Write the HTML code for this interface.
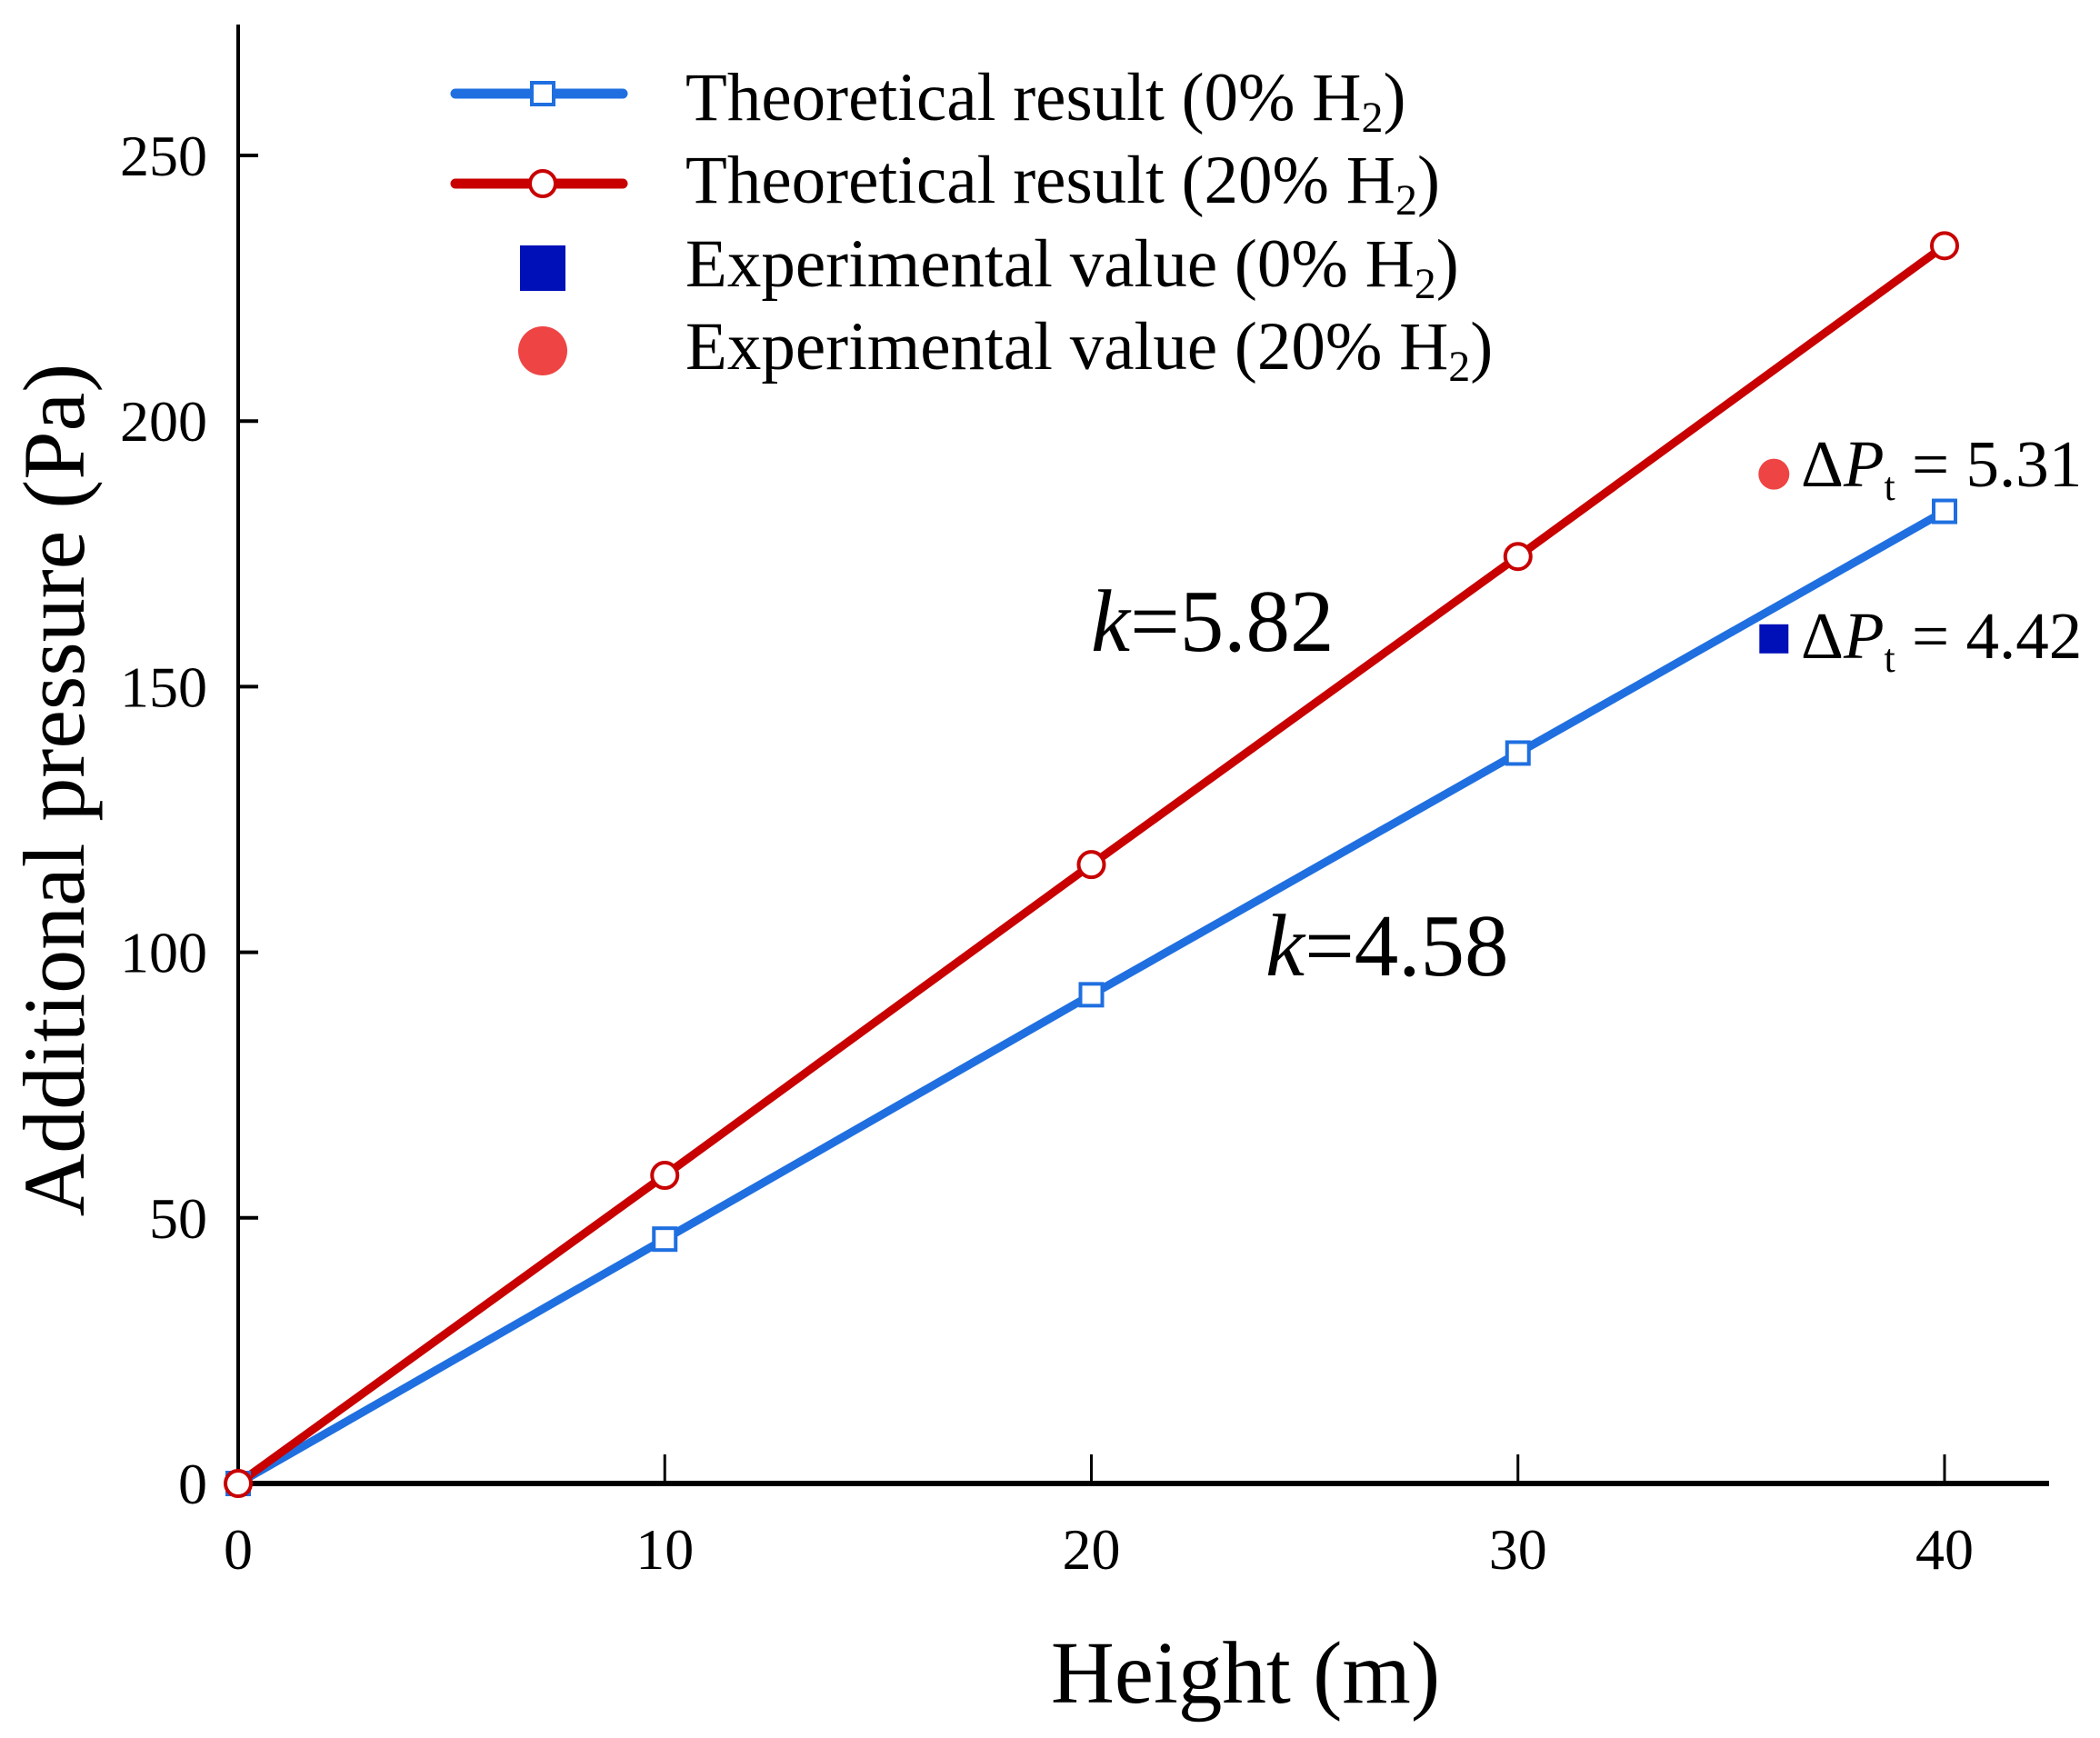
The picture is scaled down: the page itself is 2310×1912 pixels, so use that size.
<!DOCTYPE html>
<html><head><meta charset="utf-8"><style>
html,body{margin:0;padding:0;background:#fff}
svg{display:block;font-family:"Liberation Serif",serif}
</style></head><body>
<svg id="chart" width="2310" height="1912" viewBox="0 0 2310 1912" xmlns="http://www.w3.org/2000/svg">
<g id="axes"></g>
<g id="series"></g>
<g id="legend">
  <line x1="501" y1="103" x2="685" y2="103" stroke="#1f6fe0" stroke-width="11" stroke-linecap="round"/>
  <rect x="585" y="91" width="24" height="24" fill="#fff" stroke="#1f6fe0" stroke-width="4"/>
  <text x="754" y="132" font-size="75">Theoretical result (0% H<tspan font-size="48" dy="13">2</tspan><tspan dy="-13">)</tspan></text>
  <line x1="501" y1="202" x2="685" y2="202" stroke="#c80000" stroke-width="11" stroke-linecap="round"/>
  <circle cx="597" cy="202" r="14" fill="#fff" stroke="#c80000" stroke-width="4"/>
  <text x="754" y="223" font-size="75">Theoretical result (20% H<tspan font-size="48" dy="13">2</tspan><tspan dy="-13">)</tspan></text>
  <rect x="572" y="270" width="50" height="50" fill="#0010b8"/>
  <text x="754" y="315" font-size="75">Experimental value (0% H<tspan font-size="48" dy="13">2</tspan><tspan dy="-13">)</tspan></text>
  <ellipse cx="597" cy="386" rx="27" ry="27" fill="#ef4444"/>
  <text x="754" y="406" font-size="75">Experimental value (20% H<tspan font-size="48" dy="13">2</tspan><tspan dy="-13">)</tspan></text>
</g>
<g id="annot">
  <text x="1200" y="716" font-size="97"><tspan font-style="italic">k</tspan>=5.82</text>
  <text x="1392" y="1073" font-size="97"><tspan font-style="italic">k</tspan>=4.58</text>
  <text x="1981" y="535" font-size="73">Δ<tspan font-style="italic">P</tspan><tspan font-size="44" dy="15">t</tspan><tspan dy="-15"> = 5.31</tspan></text>
  <text x="1981" y="724" font-size="73">Δ<tspan font-style="italic">P</tspan><tspan font-size="44" dy="15">t</tspan><tspan dy="-15"> = 4.42</tspan></text>
  <text x="1370" y="1873" font-size="97" text-anchor="middle">Height (m)</text>
  <text transform="translate(92,869) rotate(-90)" font-size="96" text-anchor="middle">Additional pressure (Pa)</text>
</g>
</svg>
<script>
const xVals = [0, 10, 20, 30, 40];
const blueTheory = [0, 46, 92, 137.5, 183];
const redTheory = [0, 58, 116.5, 174.5, 233];
const expX = [36, 36];
const expBlue = [159];
const expRed = [190];
const xTicks = [0, 10, 20, 30, 40];
const yTicks = [0, 50, 100, 150, 200, 250];

const NS = 'http://www.w3.org/2000/svg';
const X0 = 262, X1 = 2139, Y0 = 1632, Y1 = 171;
function sx(v){ return X0 + (v - 0) / 40 * (X1 - X0); }
function sy(v){ return Y0 - v / 250 * (Y0 - Y1); }
function mk(tag, attrs, parent){ const e = document.createElementNS(NS, tag); for (const k in attrs) e.setAttribute(k, attrs[k]); parent.appendChild(e); return e; }

const axes = document.getElementById('axes');
let e = mk('line', {x1: X0, y1: 27, x2: X0, y2: Y0 + 3, stroke: '#000', 'stroke-width': 4}, axes);


e = mk('line', {x1: X0 - 2, y1: Y0, x2: 2254, y2: Y0, stroke: '#000', 'stroke-width': 6}, axes);


xTicks.forEach(t => {
  let l = mk('line', {x1: sx(t), y1: Y0, x2: sx(t), y2: Y0 - 32, stroke: '#000', 'stroke-width': 3}, axes);
  
  
  let tx = mk('text', {x: sx(t), y: 1726, 'font-size': 64, 'text-anchor': 'middle'}, axes);
  tx.textContent = t;
  
  
});
yTicks.forEach(t => {
  let l = mk('line', {x1: X0, y1: sy(t), x2: X0 + 22, y2: sy(t), stroke: '#000', 'stroke-width': 4}, axes);
  
  
  let tx = mk('text', {x: 228, y: sy(t) + 22, 'font-size': 64, 'text-anchor': 'end'}, axes);
  tx.textContent = t;
  
  
});

const series = document.getElementById('series');
function drawLine(vals, color, name){
  const pts = xVals.map((x, i) => sx(x) + ',' + sy(vals[i])).join(' ');
  let p = mk('polyline', {points: pts, fill: 'none', stroke: color, 'stroke-width': 9, 'stroke-linejoin': 'round'}, series);
  
  
}
drawLine(blueTheory, '#1f6fe0', 'blue-theory');
drawLine(redTheory, '#c80000', 'red-theory');
xVals.forEach((x, i) => {
  let r = mk('rect', {x: sx(x) - 12, y: sy(blueTheory[i]) - 12, width: 24, height: 24, fill: '#fff', stroke: '#1f6fe0', 'stroke-width': 4}, series);
  
  
});
xVals.forEach((x, i) => {
  let c = mk('circle', {cx: sx(x), cy: sy(redTheory[i]), r: 14, fill: '#fff', stroke: '#c80000', 'stroke-width': 4}, series);
  
  
});
expBlue.forEach((v) => {
  let r = mk('rect', {x: sx(expX[0]) - 16, y: sy(v) - 16, width: 32, height: 32, fill: '#0010b8'}, series);
  
  
});
expRed.forEach((v) => {
  let c = mk('circle', {cx: sx(expX[1]), cy: sy(v), r: 17, fill: '#ef4444'}, series);
  
  
});
</script>
</body></html>
